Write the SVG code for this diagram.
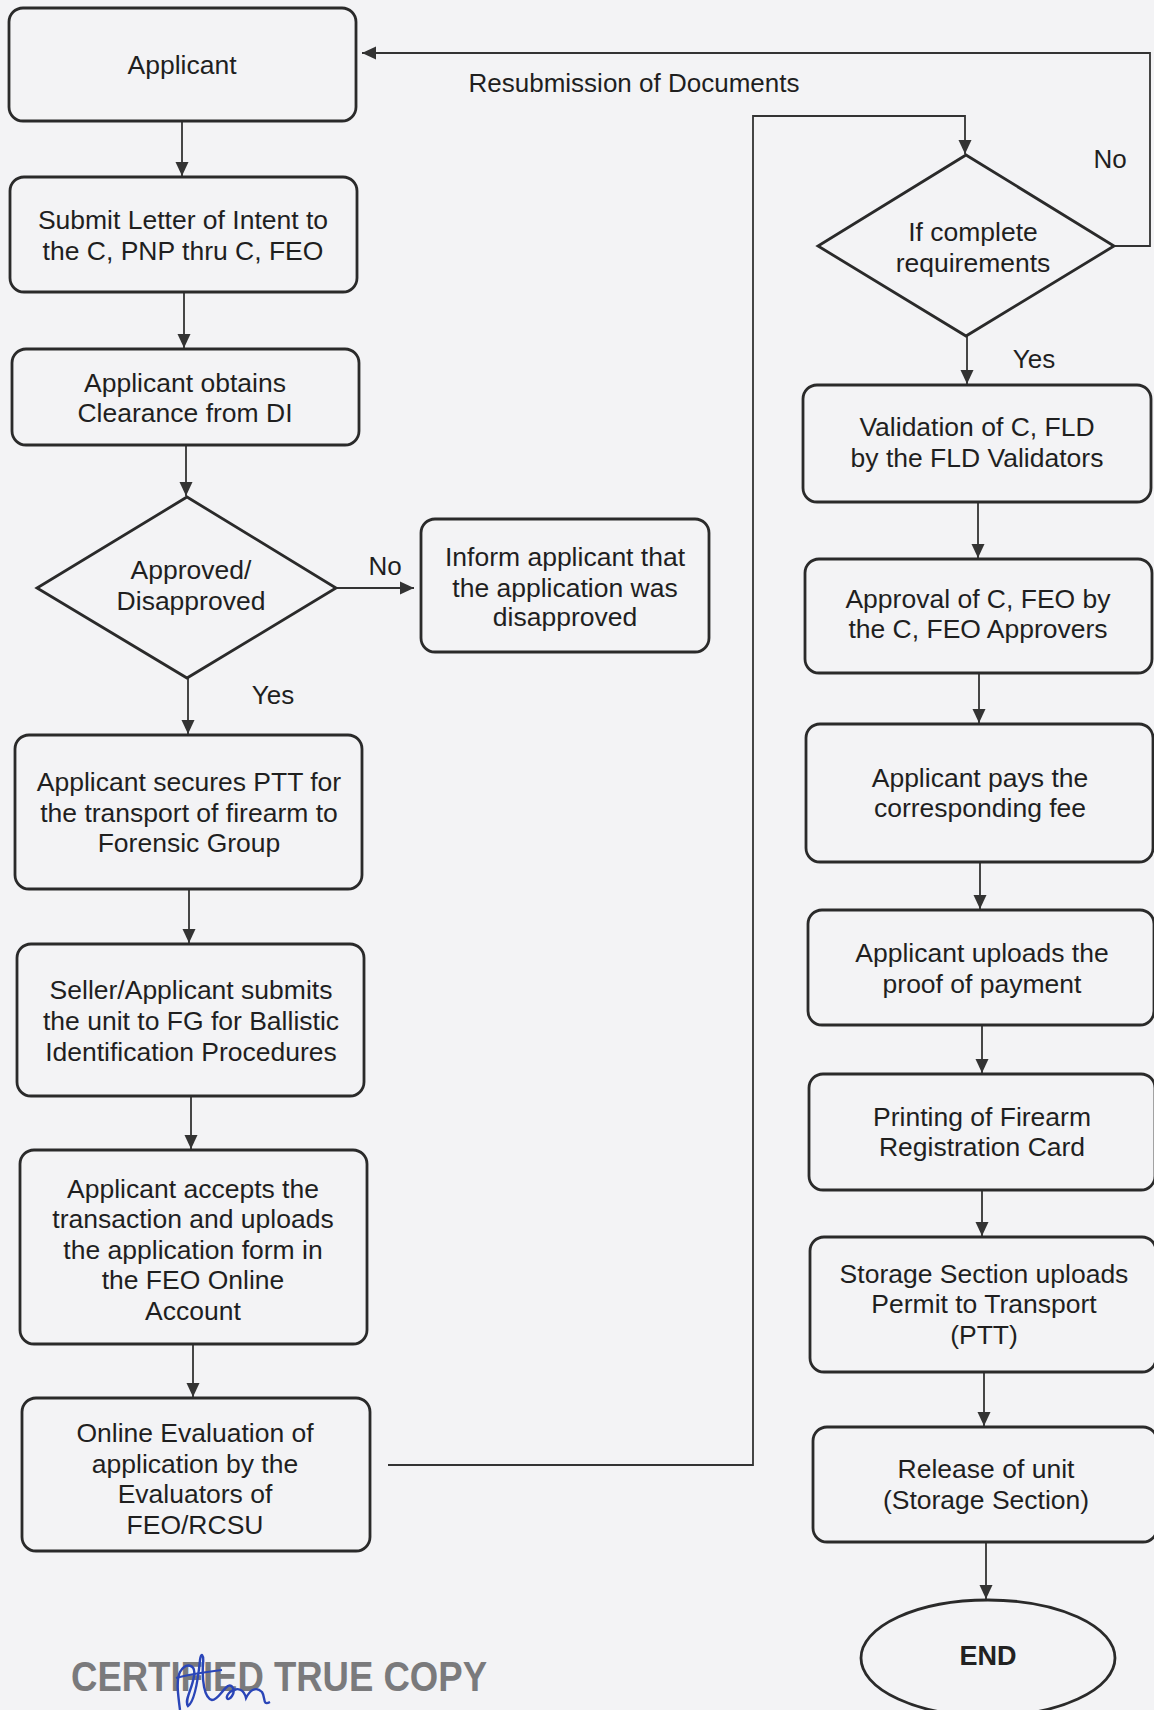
<svg xmlns="http://www.w3.org/2000/svg" width="1154" height="1710" viewBox="0 0 1154 1710">
<style>
.bg{fill:#f3f3f5}
.box{fill:none;stroke:#2a2a2a;stroke-width:2.8}
.t{font-family:"Liberation Sans",Arial,sans-serif;font-size:26.5px;fill:#1f1f1f;text-anchor:middle}
.lbl{font-family:"Liberation Sans",Arial,sans-serif;font-size:26px;fill:#1f1f1f}
.c{fill:none;stroke:#333;stroke-width:1.8}
.end{font-family:"Liberation Sans",Arial,sans-serif;font-size:27px;font-weight:bold;fill:#222;text-anchor:middle}
.cert{font-family:"Liberation Sans",Arial,sans-serif;font-size:43px;font-weight:bold;fill:#7a7a7c}
</style>
<defs>
<marker id="ah" markerUnits="userSpaceOnUse" markerWidth="14" markerHeight="14" viewBox="0 0 14 14" refX="14" refY="7" orient="auto">
<path d="M0,0.5 L14,7 L0,13.5 Z" fill="#333"/>
</marker>
</defs>
<rect class="bg" x="0" y="0" width="1154" height="1710"/>

<g id="connectors">
<line class="c" x1="182" y1="121" x2="182" y2="176" marker-end="url(#ah)"/>
<line class="c" x1="184" y1="292" x2="184" y2="348" marker-end="url(#ah)"/>
<line class="c" x1="186" y1="445" x2="186" y2="496" marker-end="url(#ah)"/>
<line class="c" x1="336" y1="588" x2="414" y2="588" marker-end="url(#ah)"/>
<line class="c" x1="188" y1="678" x2="188" y2="734" marker-end="url(#ah)"/>
<line class="c" x1="189" y1="889" x2="189" y2="943" marker-end="url(#ah)"/>
<line class="c" x1="191" y1="1096" x2="191" y2="1149" marker-end="url(#ah)"/>
<line class="c" x1="193" y1="1344" x2="193" y2="1397" marker-end="url(#ah)"/>
<polyline class="c" points="388,1465 753,1465 753,116 965,116 965,154" marker-end="url(#ah)"/>
<polyline class="c" points="1114,246 1150,246 1150,53 362,53" marker-end="url(#ah)"/>
<line class="c" x1="967" y1="336" x2="967" y2="384" marker-end="url(#ah)"/>
<line class="c" x1="978" y1="502" x2="978" y2="558" marker-end="url(#ah)"/>
<line class="c" x1="979" y1="673" x2="979" y2="723" marker-end="url(#ah)"/>
<line class="c" x1="980" y1="862" x2="980" y2="909" marker-end="url(#ah)"/>
<line class="c" x1="982" y1="1025" x2="982" y2="1073" marker-end="url(#ah)"/>
<line class="c" x1="982" y1="1190" x2="982" y2="1236" marker-end="url(#ah)"/>
<line class="c" x1="984" y1="1372" x2="984" y2="1426" marker-end="url(#ah)"/>
<line class="c" x1="986" y1="1542" x2="986" y2="1599" marker-end="url(#ah)"/>
<text class="lbl" x="385" y="575" text-anchor="middle">No</text>
<text class="lbl" x="273" y="704" text-anchor="middle">Yes</text>
<text class="lbl" x="634" y="92" text-anchor="middle">Resubmission of Documents</text>
<text class="lbl" x="1110" y="168" text-anchor="middle">No</text>
<text class="lbl" x="1034" y="368" text-anchor="middle">Yes</text>
</g>

<g id="applicant">
<rect class="box" x="9" y="8" width="347" height="113" rx="14"/>
<text class="t" x="182" y="74">Applicant</text>
</g>
<g id="submit-letter">
<rect class="box" x="10" y="177" width="347" height="115" rx="14"/>
<text class="t" x="183" y="229">Submit Letter of Intent to</text>
<text class="t" x="183" y="260">the C, PNP thru C, FEO</text>
</g>
<g id="clearance">
<rect class="box" x="12" y="349" width="347" height="96" rx="14"/>
<text class="t" x="185" y="392">Applicant obtains</text>
<text class="t" x="185" y="422">Clearance from DI</text>
</g>
<g id="approved-decision">
<polygon class="box" points="187,497 336,588 187,678 37,588"/>
<text class="t" x="191" y="579">Approved/</text>
<text class="t" x="191" y="610">Disapproved</text>
</g>
<g id="inform-disapproved">
<rect class="box" x="421" y="519" width="288" height="133" rx="14"/>
<text class="t" x="565" y="566">Inform applicant that</text>
<text class="t" x="565" y="597">the application was</text>
<text class="t" x="565" y="626">disapproved</text>
</g>
<g id="secures-ptt">
<rect class="box" x="15" y="735" width="347" height="154" rx="14"/>
<text class="t" x="189" y="791">Applicant secures PTT for</text>
<text class="t" x="189" y="822">the transport of firearm to</text>
<text class="t" x="189" y="852">Forensic Group</text>
</g>
<g id="seller-submits">
<rect class="box" x="17" y="944" width="347" height="152" rx="14"/>
<text class="t" x="191" y="999">Seller/Applicant submits</text>
<text class="t" x="191" y="1030">the unit to FG for Ballistic</text>
<text class="t" x="191" y="1061">Identification Procedures</text>
</g>
<g id="accepts-transaction">
<rect class="box" x="20" y="1150" width="347" height="194" rx="14"/>
<text class="t" x="193" y="1198">Applicant accepts the</text>
<text class="t" x="193" y="1228">transaction and uploads</text>
<text class="t" x="193" y="1259">the application form in</text>
<text class="t" x="193" y="1289">the FEO Online</text>
<text class="t" x="193" y="1320">Account</text>
</g>
<g id="online-evaluation">
<rect class="box" x="22" y="1398" width="348" height="153" rx="14"/>
<text class="t" x="195" y="1442">Online Evaluation of</text>
<text class="t" x="195" y="1473">application by the</text>
<text class="t" x="195" y="1503">Evaluators of</text>
<text class="t" x="195" y="1534">FEO/RCSU</text>
</g>
<g id="complete-decision">
<polygon class="box" points="966,155 1114,246 966,336 818,246"/>
<text class="t" x="973" y="241">If complete</text>
<text class="t" x="973" y="272">requirements</text>
</g>
<g id="validation">
<rect class="box" x="803" y="385" width="348" height="117" rx="14"/>
<text class="t" x="977" y="436">Validation of C, FLD</text>
<text class="t" x="977" y="467">by the FLD Validators</text>
</g>
<g id="approval">
<rect class="box" x="805" y="559" width="347" height="114" rx="14"/>
<text class="t" x="978" y="608">Approval of C, FEO by</text>
<text class="t" x="978" y="638">the C, FEO Approvers</text>
</g>
<g id="pays-fee">
<rect class="box" x="806" y="724" width="347" height="138" rx="14"/>
<text class="t" x="980" y="787">Applicant pays the</text>
<text class="t" x="980" y="817">corresponding fee</text>
</g>
<g id="uploads-proof">
<rect class="box" x="808" y="910" width="346" height="115" rx="14"/>
<text class="t" x="982" y="962">Applicant uploads the</text>
<text class="t" x="982" y="993">proof of payment</text>
</g>
<g id="printing">
<rect class="box" x="809" y="1074" width="346" height="116" rx="14"/>
<text class="t" x="982" y="1126">Printing of Firearm</text>
<text class="t" x="982" y="1156">Registration Card</text>
</g>
<g id="storage-uploads">
<rect class="box" x="810" y="1237" width="346" height="135" rx="14"/>
<text class="t" x="984" y="1283">Storage Section uploads</text>
<text class="t" x="984" y="1313">Permit to Transport</text>
<text class="t" x="984" y="1344">(PTT)</text>
</g>
<g id="release">
<rect class="box" x="813" y="1427" width="344" height="115" rx="14"/>
<text class="t" x="986" y="1478">Release of unit</text>
<text class="t" x="986" y="1509">(Storage Section)</text>
</g>
<g id="end">
<ellipse class="box" cx="988" cy="1658" rx="127" ry="58"/>
<text class="end" x="988" y="1665">END</text>
</g>

<g id="certified">
<text class="cert" x="71" y="1691" textLength="416" lengthAdjust="spacingAndGlyphs">CERTIFIED TRUE COPY</text>
<path d="M180,1710 C178,1695 176,1680 180,1672 C186,1662 196,1664 194,1676 C192,1690 184,1700 188,1706 C194,1702 198,1680 200,1660 C201,1652 204,1654 203,1664 C202,1680 204,1698 212,1700 C218,1700 222,1690 228,1686 C232,1684 236,1690 232,1696 C228,1702 224,1698 230,1692 C238,1686 244,1690 246,1698 C250,1690 256,1686 262,1692 C266,1698 262,1706 270,1702" fill="none" stroke="#2a45b8" stroke-width="2.4"/>
<path d="M176,1678 C190,1674 206,1672 222,1670" fill="none" stroke="#2a45b8" stroke-width="2"/>
</g>
</svg>
